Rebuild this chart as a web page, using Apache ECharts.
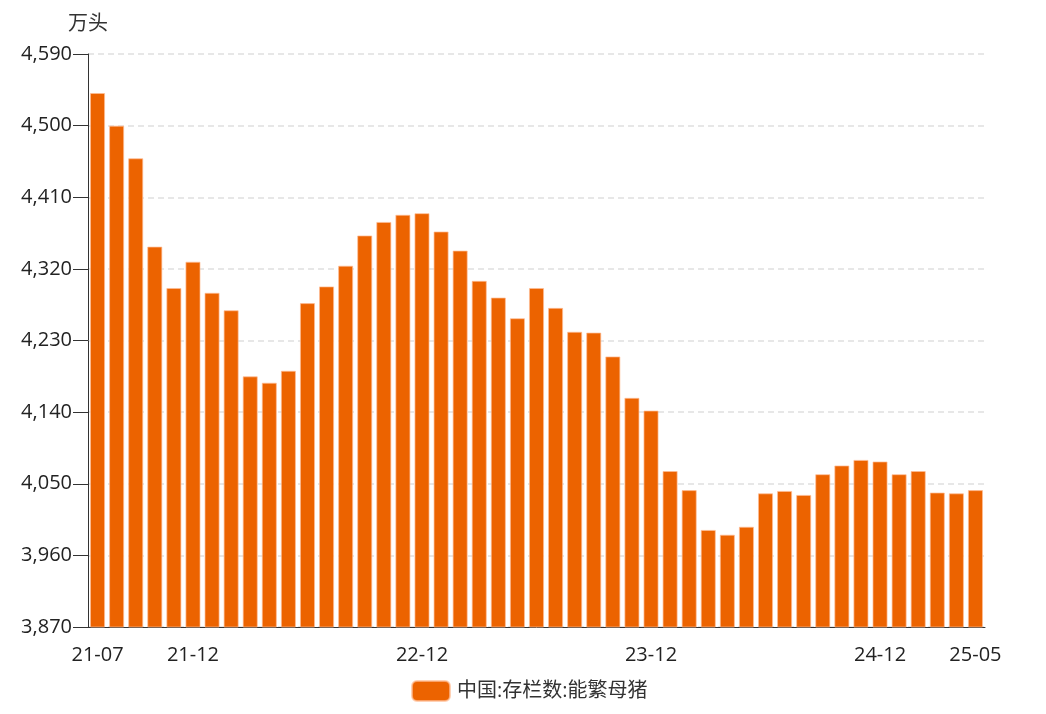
<!DOCTYPE html>
<html>
<head>
<meta charset="utf-8">
<script src="https://cdn.jsdelivr.net/npm/echarts@6/dist/echarts.min.js"></script>
<style>html,body{margin:0;padding:0;background:#fff;}#c{width:1046px;height:714px;}</style>
</head>
<body>
<div id="c"></div>
<script>
const categories = ['21-07','21-08','21-09','21-10','21-11','21-12',
  '22-01','22-02','22-03','22-04','22-05','22-06','22-07','22-08','22-09','22-10','22-11','22-12',
  '23-01','23-02','23-03','23-04','23-05','23-06','23-07','23-08','23-09','23-10','23-11','23-12',
  '24-01','24-02','24-03','24-04','24-05','24-06','24-07','24-08','24-09','24-10','24-11','24-12',
  '25-01','25-02','25-03','25-04','25-05'];
const sowValues = [4541,4500,4459,4348,4296,4329,
  4290,4268,4185,4177,4192,4277,4298,4324,4362,4379,4388,4390,
  4367,4343,4305,4284,4258,4296,4271,4241,4240,4210,4158,4142,
  4066,4042,3992,3986,3996,4038,4041,4036,4062,4073,4080,4078,
  4062,4066,4039,4038,4042];
const labelIndices = [0,5,17,29,41,46];
const seriesName = '中国:存栏数:能繁母猪';
const unitName = '万头';

const FONT = "'Open Sans','Noto Sans CJK SC',sans-serif";
const chart = echarts.init(document.getElementById('c'));
const showAt = (i) => labelIndices.indexOf(i) >= 0;
chart.setOption({
  animation: false,
  textStyle: { fontFamily: FONT },
  grid: { left: 88, right: 61, top: 54, bottom: 87 },
  legend: {
    bottom: 7, left: 406,
    itemWidth: 38, itemHeight: 20, itemGap: 10,
    icon: 'roundRect',
    textStyle: { fontSize: 20, color: '#333', fontFamily: FONT, padding: [0, 0, 0, 2] },
    data: [seriesName]
  },
  xAxis: {
    type: 'category',
    data: categories,
    axisLine: { lineStyle: { color: '#333' } },
    axisTick: { alignWithLabel: true, interval: (i) => showAt(i), length: 14, lineStyle: { color: '#333' } },
    axisLabel: { interval: (i) => showAt(i), fontSize: 20, color: '#222', margin: 18, fontFamily: FONT }
  },
  yAxis: {
    type: 'value',
    name: unitName,
    nameGap: 20,
    nameTextStyle: { fontSize: 20, color: '#333', align: 'center', fontFamily: FONT },
    min: 3870, max: 4590, interval: 90,
    axisLine: { show: true, lineStyle: { color: '#333' } },
    axisTick: { show: true, length: 15, lineStyle: { color: '#333' } },
    axisLabel: { fontSize: 20, color: '#222', margin: 16, fontFamily: FONT },
    splitLine: { lineStyle: { type: [6, 4], color: '#e0e0e0', width: 1.5 } }
  },
  series: [{
    name: seriesName,
    type: 'bar',
    data: sowValues,
    barCategoryGap: '21%',
    itemStyle: { color: '#EC6300', borderColor: 'rgba(255,190,150,0.7)', borderWidth: 1 }
  }]
});
</script>
</body>
</html>
